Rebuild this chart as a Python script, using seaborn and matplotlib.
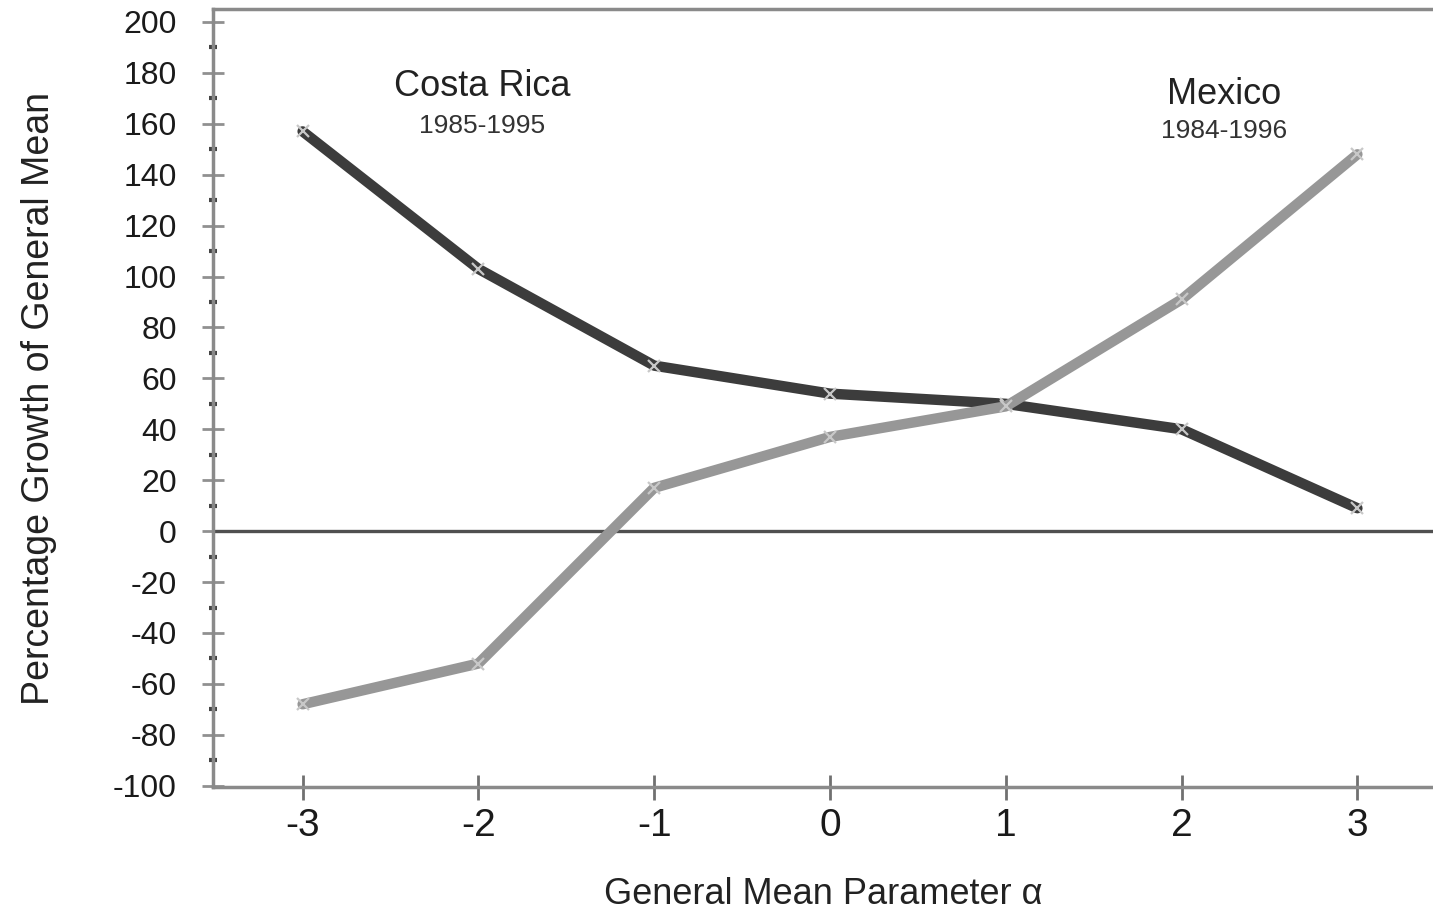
import numpy as np
import pandas as pd
import matplotlib
matplotlib.use("Agg")
import matplotlib.pyplot as plt
import seaborn as sns
from matplotlib.ticker import MultipleLocator

alpha = [-3, -2, -1, 0, 1, 2, 3]
costa_rica = [157, 103, 65, 54, 50, 40, 9]
mexico = [-68, -52, 17, 37, 49, 91, 148]
series_names = ["Costa Rica", "Mexico"]
series_periods = ["1985-1995", "1984-1996"]
y_ticks = list(range(-100, 201, 20))
x_ticks = [-3, -2, -1, 0, 1, 2, 3]

df = pd.DataFrame({
    "alpha": alpha * 2,
    "growth": costa_rica + mexico,
    "country": [series_names[0]] * len(alpha) + [series_names[1]] * len(alpha),
})

sns.set_theme(style="white")
plt.rcParams["font.family"] = ["Liberation Sans", "DejaVu Sans"]
plt.rcParams["axes.unicode_minus"] = False

fig = plt.figure(figsize=(14.33, 9.16), dpi=100)
ax = fig.add_axes([0.1486, 0.1408, 0.8514, 0.8492])

ax.axhline(0, color="#505050", linewidth=2.4, zorder=1)

sns.lineplot(data=df, x="alpha", y="growth", hue="country",
             palette={"Costa Rica": "#3c3c3c", "Mexico": "#979797"},
             linewidth=7.5, marker="x", markersize=9, markeredgewidth=1.6,
             markeredgecolor="#c8c8c8", legend=False, ax=ax, zorder=3)

ax.set_xlim(-3.51, 3.43)
ax.set_ylim(-100.5, 205)
ax.set_xticks(x_ticks)
ax.set_yticks(y_ticks)
ax.yaxis.set_minor_locator(MultipleLocator(10))
ax.tick_params(axis="y", which="major", direction="inout", length=16, width=2,
               color="#909090", labelsize=23, pad=18, left=True, labelcolor="#1a1a1a")
ax.tick_params(axis="y", which="minor", direction="inout", length=6, width=3,
               color="#444444", left=True)
ax.tick_params(axis="x", which="major", direction="inout", length=18, width=2,
               color="#707070", labelsize=28, pad=6, bottom=True, labelcolor="#1a1a1a")
for lab in ax.get_xticklabels():
    lab.set_fontstretch("condensed")

for side in ["left", "bottom", "top"]:
    ax.spines[side].set_visible(True)
    ax.spines[side].set_color("#8a8a8a")
    ax.spines[side].set_linewidth(2.5)
ax.spines["right"].set_visible(False)

ax.set_xlabel("General Mean Parameter α", fontsize=26, color="#222222", labelpad=24)
ax.set_ylabel("Percentage Growth of General Mean", fontsize=27, color="#222222", labelpad=40)

ax.text(-1.98, 174.5, series_names[0], fontsize=26, ha="center", va="center", color="#222222")
ax.text(-1.98, 159, series_periods[0], fontsize=19, ha="center", va="center", color="#333333")
ax.text(2.24, 171.5, series_names[1], fontsize=26, ha="center", va="center", color="#222222")
ax.text(2.24, 157, series_periods[1], fontsize=19, ha="center", va="center", color="#333333")

fig.savefig("out.png", dpi=100, facecolor="white")
